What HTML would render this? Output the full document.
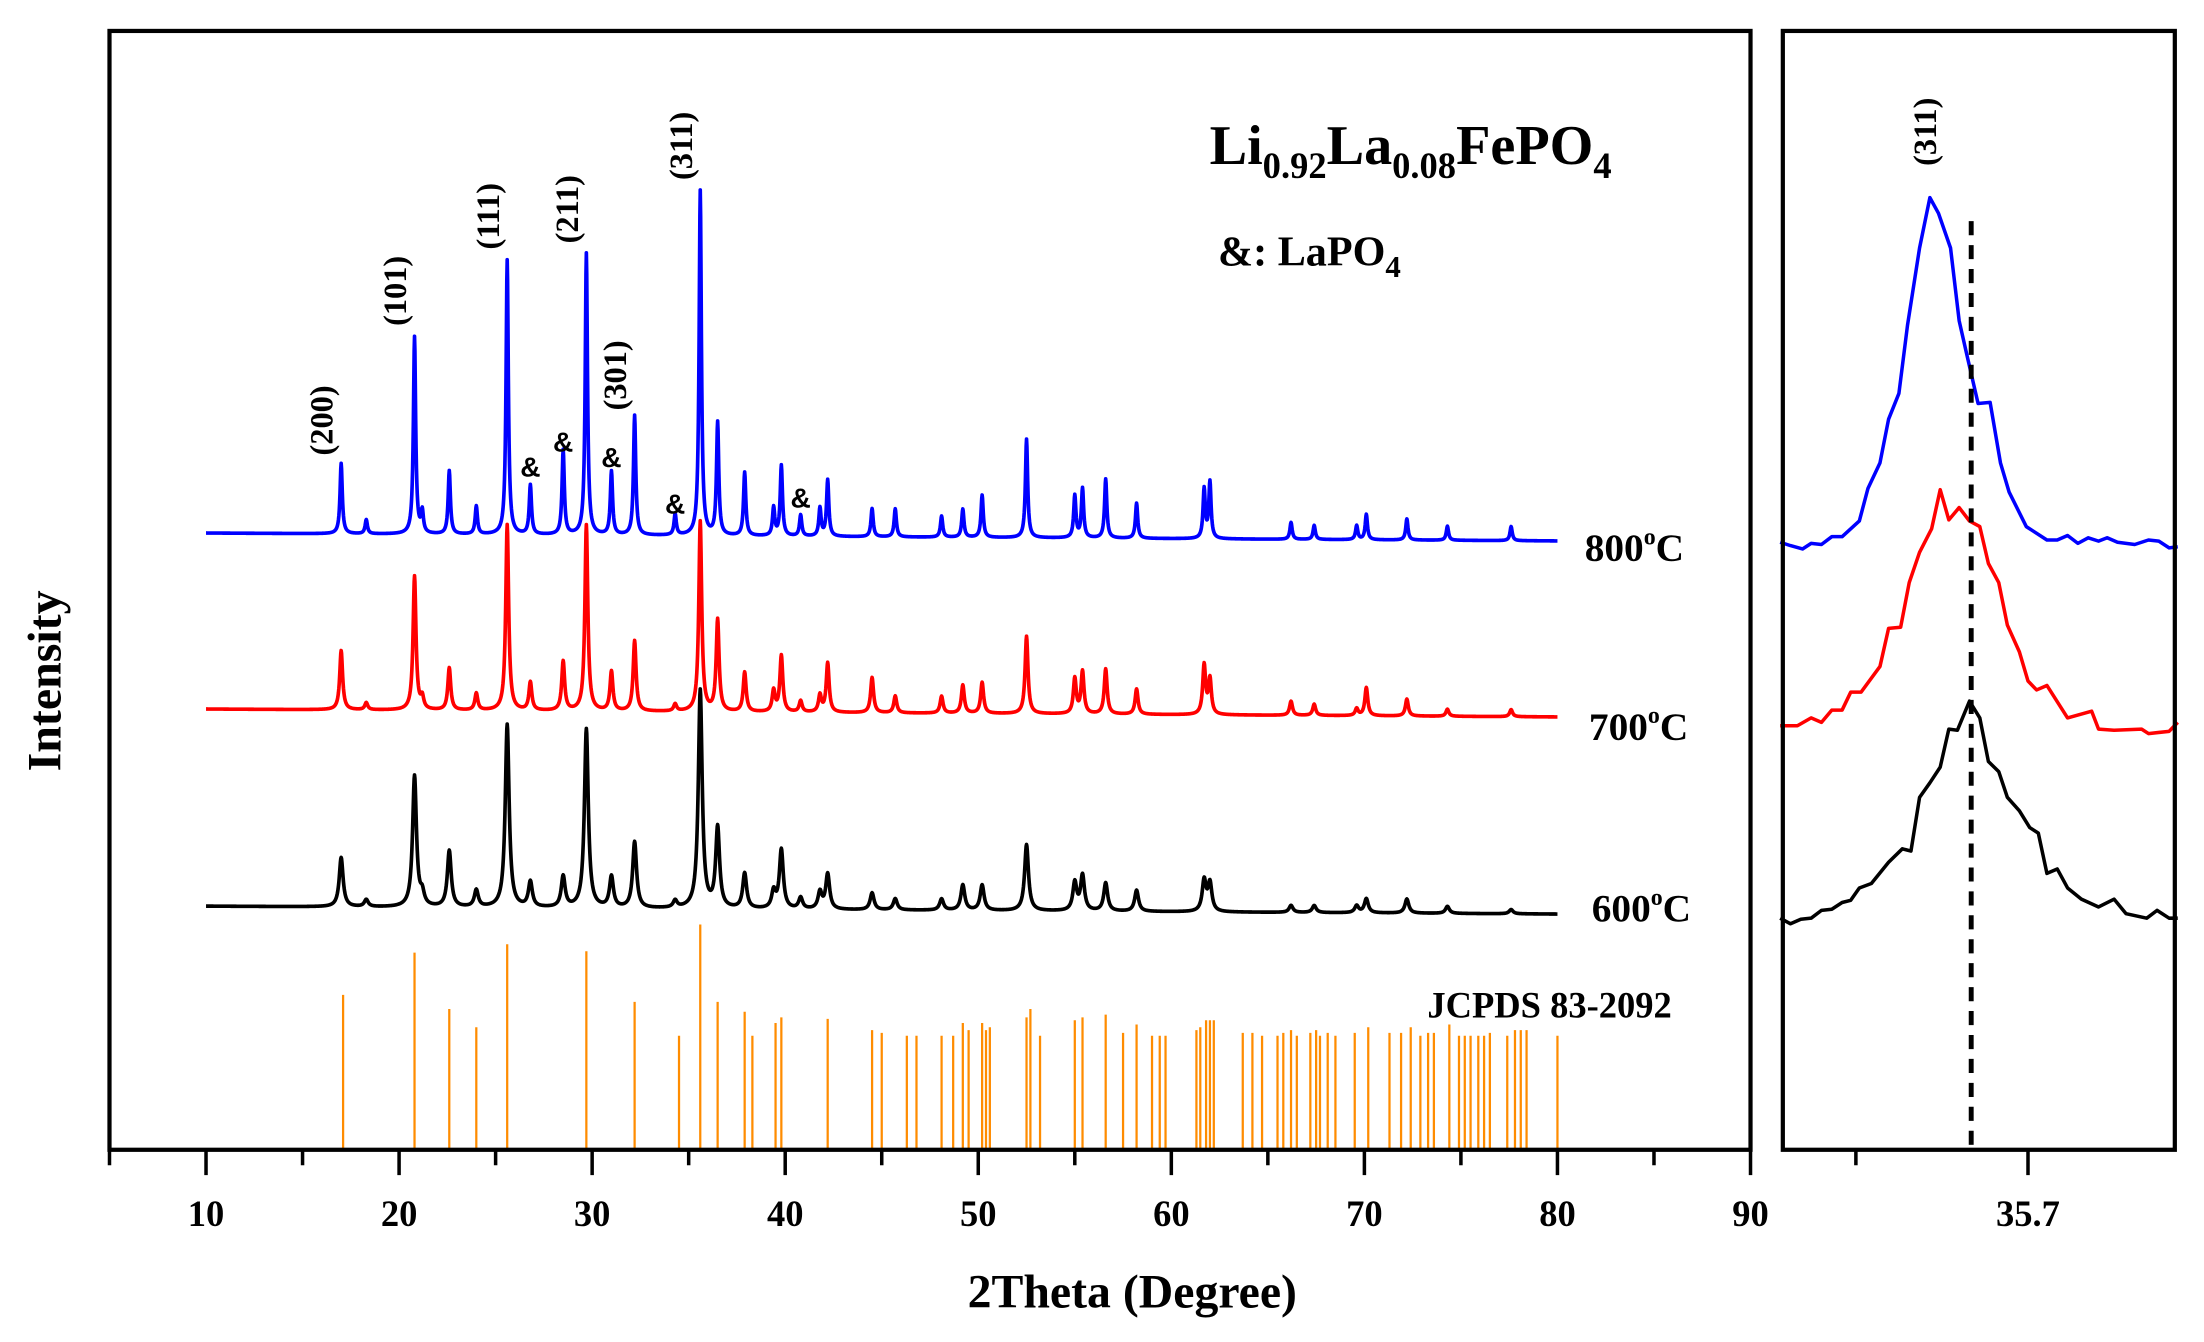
<!DOCTYPE html>
<html><head><meta charset="utf-8">
<style>
html,body{margin:0;padding:0;background:#fff;}
svg{display:block;}
text{font-family:"Liberation Serif",serif;font-weight:bold;fill:#000;}
</style></head>
<body>
<svg id="chart" width="2204" height="1342" viewBox="-0.93 1.42 1568.7 953.1" preserveAspectRatio="none" xmlns="http://www.w3.org/2000/svg">
<g id="main"></g>
<g id="inset"></g>
<text transform="translate(42,485) rotate(-90)" text-anchor="middle" font-size="34">Intensity</text>
<text x="805" y="930" text-anchor="middle" font-size="34">2Theta (Degree)</text>
<text x="860" y="118" font-size="40">Li<tspan font-size="26" dy="10">0.92</tspan><tspan dy="-10">La</tspan><tspan font-size="26" dy="10">0.08</tspan><tspan dy="-10">FePO</tspan><tspan font-size="26" dy="10">4</tspan></text>
<text x="866" y="190" font-size="30">&amp;: LaPO<tspan font-size="22" dy="8">4</tspan></text>
<text x="1127" y="400" font-size="28">800<tspan font-size="17" dy="-12">o</tspan><tspan dy="12">C</tspan></text>
<text x="1130" y="527" font-size="28">700<tspan font-size="17" dy="-12">o</tspan><tspan dy="12">C</tspan></text>
<text x="1132" y="656" font-size="28">600<tspan font-size="17" dy="-12">o</tspan><tspan dy="12">C</tspan></text>
<text x="1015" y="724" font-size="26">JCPDS 83-2092</text>
</svg>
<script>
// ===== main panel data =====
const peakPos = [17.0,18.3,20.8,21.2,22.6,24.0,25.6,26.8,28.5,29.7,31.0,32.2,34.3,35.6,36.5,37.9,39.4,39.8,40.8,41.8,42.2,44.5,45.7,48.1,49.2,50.2,52.5,55.0,55.4,56.6,58.2,61.7,62.0,66.2,67.4,69.6,70.1,72.2,74.3,77.6];
const blueH  = [50,10,140,15,45,20,195,35,60,200,45,85,15,245,80,45,20,50,15,20,40,20,20,15,20,30,70,30,35,42,25,35,40,12,10,10,18,15,10,10];
const redH   = [42,5,95,8,30,12,132,20,35,132,28,50,5,135,65,28,15,40,8,12,35,25,12,12,20,22,55,25,30,32,18,35,25,10,8,5,20,12,5,5];
const blackH = [35,5,93,8,40,12,130,18,22,127,22,47,5,155,57,25,12,42,8,12,25,12,8,8,18,18,47,20,25,20,15,22,20,5,5,5,10,10,5,3];
const seriesOffset = [438,313,173]; // baseline levels (a.u.)
const stickPos = [17.1,20.8,22.6,24.0,25.6,29.7,32.2,34.5,35.6,36.5,37.9,38.3,39.5,39.8,42.2,44.5,45.0,46.3,46.8,48.1,48.7,49.2,49.5,50.2,50.4,50.6,52.5,52.7,53.2,55.0,55.4,56.6,57.5,58.2,59.0,59.4,59.7,61.3,61.5,61.8,62.0,62.2,63.7,64.2,64.7,65.5,65.8,66.2,66.5,67.2,67.5,67.7,68.1,68.5,69.5,70.2,71.3,71.9,72.4,72.9,73.3,73.6,74.4,74.9,75.2,75.5,75.9,76.2,76.5,77.4,77.8,78.1,78.4,80.0];
const stickH = [110,140,100,87,146,141,105,81,160,105,98,81,90,94,93,85,83,81,81,81,81,90,85,90,85,87,94,100,81,92,94,96,83,89,81,81,81,85,87,92,92,92,83,83,81,81,83,85,81,83,85,81,83,81,83,87,83,83,87,81,83,83,89,81,81,81,81,81,83,81,85,85,85,81];
const xTicks = [10,20,30,40,50,60,70,80,90];
const hklLabels = ["(200)","(101)","(111)","(211)","(301)","(311)"];
const hklPos = [17.0,20.8,25.6,29.7,32.2,35.6];
const hklY = [300,208,155,150,268,105];
const ampPos = [26.8,28.5,31.0,34.3,40.8];
const ampY = [340,322,333,366,362];

// ===== inset data =====
const inX_b=[35.556,35.562,35.569,35.574,35.580,35.586,35.592,35.602,35.607,35.614,35.619,35.625,35.630,35.637,35.643,35.648,35.655,35.660,35.665,35.671,35.678,35.684,35.689,35.699,35.711,35.717,35.723,35.729,35.735,35.741,35.746,35.752,35.762,35.770,35.776,35.782,35.787];
const inY_b=[54.3,54.0,53.7,54.2,54.1,54.8,54.8,56.2,59.1,61.4,65.3,67.6,73.7,80.6,85.1,83.7,80.6,74.1,70.7,66.7,66.8,61.4,58.8,55.7,54.5,54.5,54.9,54.2,54.7,54.4,54.7,54.3,54.1,54.5,54.4,53.8,53.9];
const inX_r=[35.556,35.566,35.574,35.580,35.586,35.592,35.597,35.603,35.614,35.619,35.626,35.631,35.637,35.644,35.649,35.654,35.660,35.666,35.672,35.677,35.683,35.688,35.695,35.700,35.705,35.711,35.723,35.737,35.741,35.750,35.766,35.770,35.782,35.787];
const inY_r=[37.9,37.9,38.6,38.2,39.3,39.3,40.9,40.9,43.2,46.6,46.7,50.7,53.4,55.5,59.0,56.3,57.4,56.2,55.7,52.4,50.7,46.9,44.5,41.9,41.1,41.5,38.6,39.2,37.6,37.5,37.6,37.2,37.4,38.2];
const inX_k=[35.556,35.562,35.568,35.574,35.580,35.586,35.592,35.597,35.602,35.609,35.619,35.627,35.632,35.637,35.643,35.649,35.654,35.659,35.666,35.672,35.677,35.683,35.688,35.695,35.701,35.706,35.711,35.717,35.723,35.731,35.741,35.750,35.757,35.769,35.775,35.782,35.787];
const inY_k=[20.7,20.2,20.6,20.7,21.4,21.5,22.1,22.3,23.4,23.8,25.7,26.9,26.7,31.5,32.8,34.2,37.6,37.5,40.1,38.6,34.7,33.8,31.5,30.3,28.8,28.3,24.7,25.1,23.4,22.4,21.7,22.4,21.1,20.7,21.4,20.7,20.7];
const inTicks=[35.6,35.7];
const refLine=35.667;

const NS="http://www.w3.org/2000/svg";
function mk(tag,attrs,parent){const e=document.createElementNS(NS,tag);for(const k in attrs)e.setAttribute(k,attrs[k]);parent.appendChild(e);return e;}

// main axes
const L=77,R=1245,T=23.4,B=818;
const xs=v=>L+(v-5)/(90-5)*(R-L);
const ys=v=>B-v;
const main=document.getElementById('main');

stickPos.forEach((p,i)=>{
  const s=mk('line',{x1:xs(p),x2:xs(p),y1:ys(0),y2:ys(stickH[i]),stroke:'#FF8C00','stroke-width':1.6},main);
  
  
});

function profile(x,H,w){let s=0;for(let i=0;i<peakPos.length;i++){const d=(x-peakPos[i])/w;s+=H[i]/(1+d*d);}return s;}
const series=[[blueH,'#0000FF',0.07,'pattern-800c'],[redH,'#FF0000',0.09,'pattern-700c'],[blackH,'#000000',0.12,'pattern-600c']];
[2,1,0].forEach(si=>{
  const [H,col,w,name]=series[si];
  let d='';
  for(let x=10;x<=80.0001;x+=0.02){
    const v=seriesOffset[si]-(x-10)*0.08+profile(x,H,w);
    d+=(d?'L':'M')+xs(x).toFixed(2)+','+ys(v).toFixed(2);
  }
  const p=mk('path',{d:d,fill:'none',stroke:col,'stroke-width':2.6,'stroke-linejoin':'round'},main);
  
  
});

const fr=mk('rect',{x:L,y:T,width:R-L,height:B-T,fill:'none',stroke:'#000','stroke-width':3},main);


for(let v=5;v<=90;v+=5){
  const major=(v%10===0);
  const t=mk('line',{x1:xs(v),x2:xs(v),y1:B,y2:B+(major?18:11),stroke:'#000','stroke-width':2.5},main);
  
  
}
xTicks.forEach(v=>{
  const t=mk('text',{x:xs(v),y:872,'text-anchor':'middle','font-size':26},main);
  t.textContent=v;
  
  
});
hklLabels.forEach((lab,i)=>{
  const t=mk('text',{transform:`translate(${xs(hklPos[i])-6},${hklY[i]}) rotate(-90)`,'text-anchor':'middle','font-size':23},main);
  t.textContent=lab;
  
  
});
ampPos.forEach((p,i)=>{
  const t=mk('text',{x:xs(p),y:ampY[i],'text-anchor':'middle','font-size':20,style:'font-family:"Liberation Sans",sans-serif'},main);
  t.textContent='&';
  
  
});

// inset
const IL=1268,IR=1547;
const inset=document.getElementById('inset');
const ix=v=>1442.5+(v-35.7)*1225;
const iy=v=>B-v/100*(B-T);
function line(X,Y,col,name){
  let d='';X.forEach((x,i)=>{d+=(i?'L':'M')+ix(x).toFixed(2)+','+iy(Y[i]).toFixed(2);});
  const p=mk('path',{d:d,fill:'none',stroke:col,'stroke-width':2.5,'stroke-linejoin':'round'},inset);
  
  
}
line(inX_k,inY_k,'#000','zoom-600c');
line(inX_r,inY_r,'#FF0000','zoom-700c');
line(inX_b,inY_b,'#0000FF','zoom-800c');
const dl=mk('line',{x1:ix(refLine),x2:ix(refLine),y1:iy(83),y2:B,stroke:'#000','stroke-width':3.5,'stroke-dasharray':'10,7'},inset);


const ifr=mk('rect',{x:IL,y:T,width:IR-IL,height:B-T,fill:'none',stroke:'#000','stroke-width':3},inset);


inTicks.forEach((v,i)=>{
  const t=mk('line',{x1:ix(v),x2:ix(v),y1:B,y2:B+(i===1?18:11),stroke:'#000','stroke-width':2.5},inset);
  
  
});
const tl=mk('text',{x:ix(35.7),y:872,'text-anchor':'middle','font-size':26},inset);
tl.textContent='35.7';


const il=mk('text',{transform:`translate(${ix(35.64)+8},95) rotate(-90)`,'text-anchor':'middle','font-size':23},inset);
il.textContent='(311)';


</script>
</body></html>
